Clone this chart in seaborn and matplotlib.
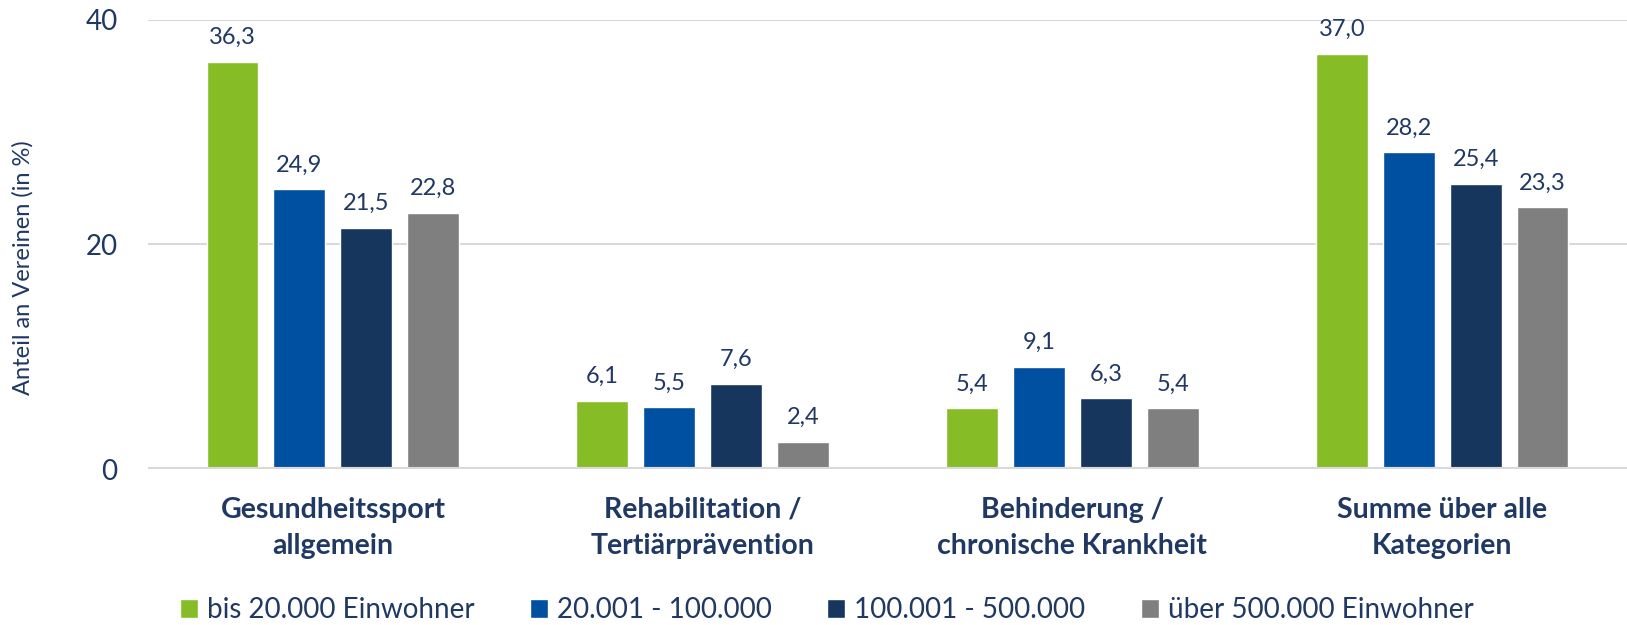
# Gesundheitssport-Angebote nach Gemeindegröße

import pandas as pd
import matplotlib.pyplot as plt
import seaborn as sns

# Data
categories = ['Gesundheitssport\nallgemein', 'Rehabilitation /\nTertiärprävention',
              'Behinderung /\nchronische Krankheit', 'Summe über alle\nKategorien']
groups = ['bis 20.000 Einwohner', '20.001 - 100.000', '100.001 - 500.000',
          'über 500.000 Einwohner']
bis_20k = [36.3, 6.1, 5.4, 37.0]
bis_100k = [24.9, 5.5, 9.1, 28.2]
bis_500k = [21.5, 7.6, 6.3, 25.4]
ueber_500k = [22.8, 2.4, 5.4, 23.3]
y_ticks = [0, 20, 40]

colors = ['#86BC25', '#0050A2', '#17365D', '#7F7F7F']
text_col = '#1F3864'
grid_col = '#D9D9D9'

df = pd.DataFrame({
    'kategorie': categories * 4,
    'gruppe': [g for g in groups for _ in categories],
    'wert': bis_20k + bis_100k + bis_500k + ueber_500k,
})

sns.set_style('white')
plt.rcParams['font.family'] = ['Lato', 'DejaVu Sans']

fig = plt.figure(figsize=(16.27, 6.25), dpi=100)
ax = fig.add_axes([148 / 1627, 1 - 469 / 625, 1 - 148 / 1627, (469 - 20) / 625])

sns.barplot(data=df, x='kategorie', y='wert', hue='gruppe', order=categories,
            hue_order=groups, palette=colors, width=0.724, gap=0.224,
            errorbar=None, saturation=1, ax=ax, legend=True)

ax.set_ylim(0, 40)
ax.set_xlim(-0.5, 3.5)
ax.set_yticks(y_ticks)
ax.set_axisbelow(True)
ax.yaxis.grid(True, color=grid_col, linewidth=1.5)
ax.axhline(0, color=grid_col, linewidth=3, zorder=1)
sns.despine(ax=ax, left=True, bottom=True)

ax.tick_params(axis='y', length=0, pad=22, labelsize=20, labelcolor=text_col)
ax.tick_params(axis='x', length=0, pad=20, labelcolor=text_col)
for lab in ax.get_xticklabels():
    lab.set_fontsize(20.5)
    lab.set_fontweight('bold')
    lab.set_linespacing(1.5)

ax.set_xlabel('')
ax.set_ylabel('')
fig.text(23 / 1627, 1 - 268 / 625, 'Anteil an Vereinen (in %)', rotation=90,
         ha='center', va='center', fontsize=17, color=text_col)

# value labels with German decimal comma
for cont in ax.containers:
    ax.bar_label(cont, fmt=lambda v: f'{v:.1f}'.replace('.', ','), padding=10,
                 fontsize=17, color=text_col)

# legend at the bottom
handles, labels = ax.get_legend_handles_labels()
ax.get_legend().remove()
leg = fig.legend(handles, labels, loc='center', bbox_to_anchor=(0.508, 0.024),
                 ncol=4, frameon=False, fontsize=20, handlelength=0.65,
                 handleheight=0.65, handletextpad=0.32, columnspacing=2.0,
                 borderpad=0)
for t in leg.get_texts():
    t.set_color(text_col)

plt.savefig('out.png', dpi=100)
